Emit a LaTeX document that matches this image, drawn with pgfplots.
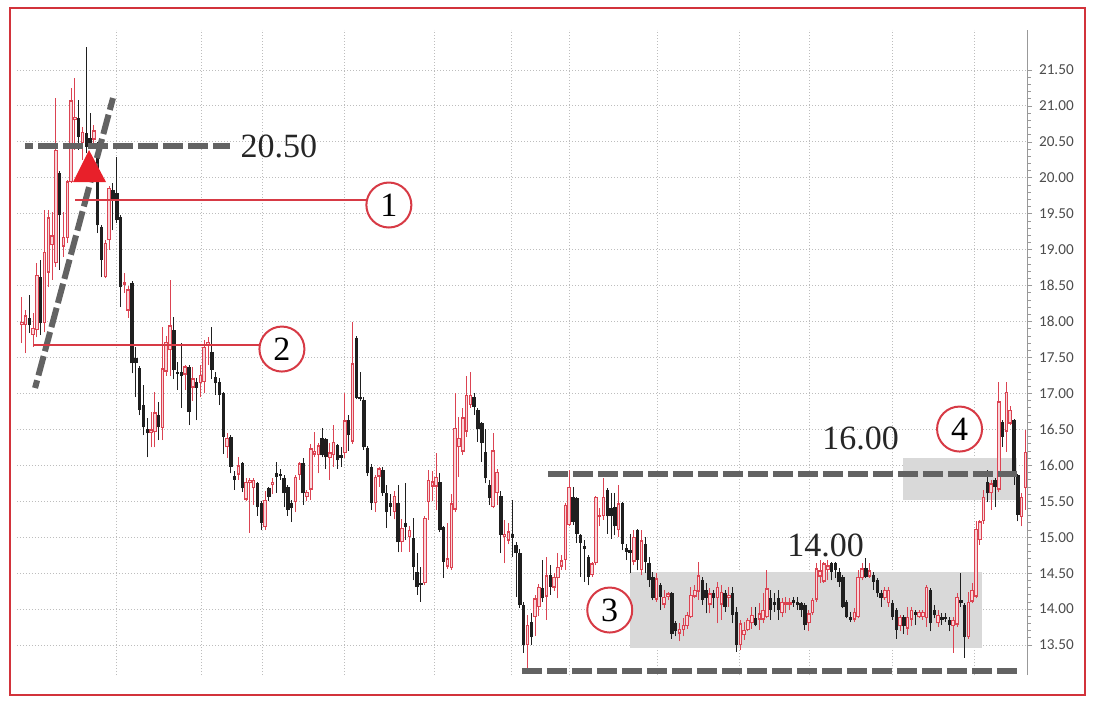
\documentclass[border=0pt]{standalone}
\usepackage{pgfplots}
\usepackage{pgfplotstable}
\pgfplotsset{compat=1.18}
\usepackage{fontspec}
\setmainfont{Liberation Serif}
\newfontfamily\carlito{Carlito}

\definecolor{upred}{HTML}{DB4352}
\definecolor{uppink}{HTML}{F9D6DA}
\definecolor{dnblack}{HTML}{1F1F1F}
\definecolor{dashgray}{HTML}{636363}
\definecolor{boxgray}{HTML}{D9D9D9}
\definecolor{linered}{HTML}{D73A45}
\definecolor{framered}{HTML}{D2333B}
\definecolor{trired}{HTML}{E8202A}
\definecolor{gridgray}{HTML}{BDBDBD}

% daily candles: open high low close
\pgfplotstableread{
o h l c
17.95 18.34 17.70 18.00
17.95 18.16 17.56 18.09
18.05 18.37 17.84 17.95
17.81 18.12 17.65 17.91
17.88 18.81 17.78 18.65
18.62 18.86 17.81 17.98
17.98 19.55 17.85 18.97
18.68 19.55 18.48 19.45
19.06 19.52 18.58 19.20
18.81 21.11 18.76 20.39
20.07 20.10 18.72 19.48
19.04 19.52 18.90 19.18
19.16 19.97 19.10 19.95
19.94 21.25 19.93 21.08
20.80 21.39 20.39 20.85
20.83 21.08 20.39 20.57
20.48 20.71 20.25 20.64
20.62 21.82 20.34 20.43
20.55 20.90 20.40 20.46
20.53 20.74 20.46 20.66
20.46 20.50 19.23 19.34
19.32 19.35 18.62 18.86
18.62 19.13 18.60 19.10
19.13 19.88 19.00 19.86
19.83 19.93 19.27 19.69
19.79 20.29 19.37 19.41
19.45 19.48 18.20 18.48
18.51 18.68 18.40 18.55
18.15 18.50 18.05 18.45
18.54 18.56 17.28 17.42
17.50 17.65 16.95 17.42
17.35 17.38 16.70 16.77
16.84 17.12 16.42 16.53
16.50 16.66 16.11 16.45
16.45 16.74 16.25 16.50
16.46 17.02 16.25 16.74
16.70 16.88 16.35 16.53
16.52 17.93 16.35 17.35
17.30 17.80 17.25 17.72
17.60 18.58 17.25 17.95
17.88 18.07 17.20 17.33
17.30 17.44 17.05 17.27
17.30 17.70 16.80 17.25
17.26 17.40 17.05 17.38
17.37 17.40 16.56 16.74
17.08 17.37 16.90 17.21
17.16 17.21 16.63 17.08
17.14 17.40 16.95 17.26
17.16 17.75 17.00 17.65
17.67 17.78 17.40 17.72
17.58 17.93 17.20 17.33
17.23 17.30 16.98 17.14
17.16 17.21 16.84 16.98
17.00 17.02 16.16 16.40
16.25 16.45 16.10 16.38
16.40 16.42 15.89 15.98
15.85 15.92 15.66 15.80
15.87 16.11 15.80 16.00
16.03 16.05 15.63 15.68
15.52 15.82 15.50 15.77
15.75 15.82 15.06 15.80
15.68 15.82 15.45 15.80
15.75 15.77 15.30 15.42
15.47 15.50 15.10 15.20
15.14 15.64 15.10 15.52
15.68 15.70 15.50 15.56
15.72 15.82 15.60 15.77
15.89 16.05 15.62 15.84
15.88 15.95 15.80 15.85
15.82 15.86 15.42 15.61
15.70 15.72 15.30 15.38
15.48 15.52 15.21 15.40
15.49 15.86 15.35 15.84
15.86 16.05 15.80 16.03
16.03 16.10 15.45 15.61
15.56 15.66 15.50 15.63
15.66 16.30 15.52 16.24
16.15 16.46 16.11 16.20
16.14 16.31 15.89 16.28
16.38 16.52 16.11 16.14
16.36 16.38 15.95 16.11
16.10 16.31 15.80 16.18
16.14 16.56 15.98 16.33
16.28 16.30 15.95 16.07
16.15 16.25 15.98 16.10
16.17 17.00 16.10 16.63
16.63 16.70 16.20 16.42
16.33 18.00 16.30 17.42
17.77 17.80 16.92 16.94
16.95 17.30 16.90 16.92
16.91 16.95 16.22 16.25
16.24 16.27 15.85 15.89
15.98 16.02 15.38 15.47
15.47 15.86 15.35 15.84
15.84 15.98 15.70 15.96
15.94 15.98 15.58 15.61
15.61 15.72 15.13 15.35
15.48 15.60 15.30 15.42
15.35 15.65 15.25 15.58
15.47 15.72 14.79 14.93
14.93 15.25 14.80 15.13
15.20 15.75 14.96 15.14
15.00 15.15 14.80 15.10
14.99 15.27 14.40 14.59
14.52 14.78 14.20 14.31
14.36 14.59 14.10 14.33
14.36 15.30 14.33 15.27
15.49 15.94 15.24 15.80
15.70 15.92 15.50 15.78
15.70 16.17 15.38 15.84
15.77 15.90 15.07 15.10
15.14 15.16 14.43 14.66
14.59 15.20 14.56 14.71
14.57 15.60 14.55 15.47
15.38 17.00 15.35 16.52
16.25 16.67 15.84 16.38
16.19 16.80 16.15 16.67
16.47 17.25 16.40 16.98
16.84 17.30 16.80 16.98
16.95 17.00 16.70 16.81
16.77 16.80 16.33 16.50
16.59 16.60 16.05 16.31
16.19 16.50 15.75 15.82
15.72 15.80 15.45 15.54
15.42 16.45 15.40 16.21
15.61 15.95 15.45 15.91
15.58 15.65 14.78 15.03
15.00 15.24 14.64 15.05
14.95 15.20 14.90 15.08
15.05 15.52 14.73 14.99
14.89 14.93 14.17 14.78
14.78 14.83 14.02 14.06
14.06 14.10 13.39 13.50
13.50 13.92 13.15 13.78
13.82 13.95 13.50 13.61
13.89 14.20 13.63 14.15
14.03 14.35 13.90 14.31
14.29 14.68 14.10 14.15
14.17 14.72 13.85 14.47
14.47 14.62 14.20 14.31
14.30 14.50 14.25 14.45
14.43 14.78 14.15 14.59
14.59 14.75 14.55 14.68
14.68 15.48 14.55 15.45
15.17 15.94 15.15 15.70
15.56 15.70 15.17 15.21
15.54 15.56 14.92 15.05
15.03 15.05 14.45 14.92
14.88 14.96 14.38 14.84
14.73 14.75 14.33 14.45
14.47 14.66 14.45 14.64
14.64 15.58 14.61 15.56
15.28 15.40 15.15 15.31
15.29 15.82 15.24 15.56
15.66 15.68 15.05 15.29
15.40 15.61 14.98 15.29
15.42 15.61 15.03 15.15
15.10 15.73 15.01 15.47
15.47 15.49 14.82 14.91
14.85 14.91 14.68 14.80
14.82 15.05 14.50 14.78
14.66 15.10 14.61 15.01
15.10 15.12 14.54 14.68
14.54 15.10 14.47 14.96
14.91 15.01 14.50 14.66
14.64 14.73 14.31 14.40
14.45 14.52 14.12 14.15
14.13 14.50 14.10 14.43
14.33 14.36 13.99 14.17
14.06 14.27 14.01 14.17
14.17 14.24 14.12 14.22
14.22 14.24 13.59 13.66
13.80 13.83 13.62 13.69
13.66 13.80 13.55 13.73
13.71 13.87 13.62 13.78
13.76 13.96 13.73 13.92
13.89 14.31 13.87 14.20
14.17 14.34 14.15 14.27
14.24 14.66 14.13 14.47
14.40 14.45 14.06 14.13
14.27 14.36 13.94 14.15
14.06 14.29 13.94 14.22
14.22 14.27 14.01 14.15
14.15 14.38 13.80 14.31
14.06 14.34 13.85 14.24
14.22 14.27 13.96 14.03
14.15 14.31 14.03 14.20
14.22 14.31 13.80 13.92
13.96 14.03 13.41 13.50
13.50 13.85 13.43 13.80
13.64 13.82 13.57 13.71
13.71 13.87 13.69 13.85
13.80 14.03 13.73 13.92
13.87 14.03 13.76 13.78
13.85 14.08 13.71 13.94
13.85 14.22 13.80 13.99
13.89 14.54 13.87 14.29
14.15 14.27 13.85 13.99
14.10 14.22 13.96 14.06
14.15 14.27 13.85 13.99
13.94 14.15 13.89 14.10
14.06 14.17 13.94 14.10
14.06 14.15 13.99 14.10
14.13 14.17 14.03 14.08
14.10 14.17 13.99 14.06
14.08 14.10 13.89 13.99
14.06 14.08 13.71 13.78
13.80 13.99 13.69 13.94
13.94 14.15 13.92 14.13
14.13 14.64 14.10 14.57
14.45 14.68 14.36 14.54
14.38 14.66 14.36 14.64
14.54 14.68 14.40 14.61
14.64 14.66 14.40 14.52
14.64 14.66 14.43 14.54
14.52 14.57 14.31 14.38
14.45 14.47 14.01 14.03
14.10 14.13 13.87 13.89
13.89 13.96 13.82 13.85
13.85 14.01 13.82 13.96
13.89 14.54 13.87 14.45
14.43 14.64 14.40 14.57
14.57 14.71 14.43 14.45
14.45 14.64 14.43 14.54
14.47 14.52 14.27 14.38
14.40 14.43 14.17 14.22
14.22 14.27 14.03 14.15
14.15 14.31 14.13 14.27
14.08 14.31 14.03 14.27
14.08 14.13 13.85 13.89
13.99 14.01 13.59 13.71
13.76 13.92 13.69 13.89
13.89 13.92 13.66 13.76
13.73 14.03 13.64 13.89
13.85 14.03 13.76 13.99
13.96 13.99 13.78 13.92
13.89 13.99 13.87 13.96
13.89 13.99 13.85 13.96
13.87 14.34 13.75 14.31
14.27 14.29 13.69 13.80
13.99 14.06 13.87 13.92
13.80 13.99 13.75 13.92
13.89 13.94 13.78 13.85
13.89 13.94 13.82 13.86
13.85 13.89 13.69 13.78
13.76 13.89 13.39 13.85
13.78 14.22 13.75 14.17
14.13 14.50 14.03 14.08
14.06 14.08 13.32 13.61
13.61 14.24 13.59 14.10
14.10 14.36 14.08 14.27
14.17 15.22 14.15 15.12
14.96 15.24 14.89 15.22
15.22 15.66 15.19 15.56
15.77 15.93 15.49 15.61
15.61 15.80 15.38 15.75
15.80 15.82 15.42 15.70
15.66 17.16 15.63 16.89
16.61 16.63 16.26 16.40
16.47 17.16 16.19 17.02
16.58 16.82 16.56 16.77
16.63 16.65 15.73 15.84
15.86 15.88 15.22 15.31
15.28 15.61 15.15 15.56
15.68 16.49 15.38 16.19
}\candles

\begin{document}
\begin{tikzpicture}
\begin{axis}[
  scale only axis, width=505pt, height=322.5pt,
  xmin=-1.25, xmax=264.4, ymin=13.083, ymax=22.057,
  clip=false,
  axis y line*=right, axis x line*=bottom,
  x axis line style={draw=none},
  y axis line style={draw=black!40, line width=0.5pt},
  xtick={25.05,47.4,63.4,85.0,108.6,128.9,144.1,167.3,188.8,207.2,229.0,250.6},
  xticklabels={}, xtick style={draw=none},
  ytick={13.5,14,...,21.5}, minor y tick num=4,
  tick align=outside, major tick length=2.5pt, minor tick length=1.8pt,
  ytick style={draw=black!40, line width=0.4pt},
  grid=major,
  major grid style={draw=gridgray, line width=0.5pt, dash pattern=on 0.5pt off 1pt},
  scaled y ticks=false,
  /pgf/number format/assume math mode=true,
  yticklabel style={font=\carlito\fontsize{7.6}{9}\selectfont, text=black!70,
    /pgf/number format/fixed, /pgf/number format/fixed zerofill,
    /pgf/number format/precision=2},
  candle/.style={draw=none, mark=none, forget plot,
    error bars/.cd, y dir=plus, y explicit, error mark=none},
]
% page and frame
\path (rel axis cs:-0.016832,-0.051163) rectangle (rel axis cs:1.068317,1.046512);
\draw[framered, line width=1pt] (rel axis cs:-0.006931,-0.031008) rectangle (rel axis cs:1.057426,1.034109);

% shaded ranges
\fill[boxgray] (axis cs:159.91,13.458) rectangle (axis cs:252.45,14.516);
\fill[boxgray] (axis cs:231.68,15.517) rectangle (axis cs:261.65,16.102);

% wicks
\addplot[candle, error bar style={line width=0.5pt, draw=upred, solid}]
  table[x expr=\coordindex, y=l,
    y error plus expr={ifthenelse(\thisrow{c}>=\thisrow{o}, \thisrow{h}-\thisrow{l}, 0)}] {\candles};
\addplot[candle, error bar style={line width=0.5pt, draw=dnblack, solid}]
  table[x expr=\coordindex, y=l,
    y error plus expr={ifthenelse(\thisrow{c}<\thisrow{o}, \thisrow{h}-\thisrow{l}, 0)}] {\candles};
% bodies
\addplot[candle, error bar style={line width=1.8pt, draw=upred, solid}]
  table[x expr=\coordindex, y=o,
    y error plus expr={max(\thisrow{c}-\thisrow{o}, 0)}] {\candles};
\addplot[candle, error bar style={line width=0.8pt, draw=uppink, solid}]
  table[x expr=\coordindex, y expr=\thisrow{o}+0.02,
    y error plus expr={max(\thisrow{c}-\thisrow{o}-0.04, 0)}] {\candles};
\addplot[candle, error bar style={line width=1.7pt, draw=dnblack, solid}]
  table[x expr=\coordindex, y=c,
    y error plus expr={max(\thisrow{o}-\thisrow{c}, 0)}] {\candles};

% support and resistance
\tikzset{lvl/.style={dashgray, line width=3pt, dash pattern=on 10pt off 2.5pt}}
\draw[lvl, dash phase=6pt] (axis cs:0.87,20.443) -- (axis cs:54.76,20.443);
\draw[lvl, dash phase=6pt] (axis cs:3.50,17.076) -- (axis cs:24.0,21.11);
\draw[lvl] (axis cs:138.36,15.879) -- (axis cs:261.65,15.879);
\draw[lvl] (axis cs:131.52,13.138) -- (axis cs:261.65,13.138);

\fill[trired] (axis cs:17.69,20.387) -- (axis cs:13.49,19.942) -- (axis cs:22.16,19.942) -- cycle;

\draw[linered, line width=0.75pt] (axis cs:14.01,19.691) -- (axis cs:96.56,19.691);
\draw[linered, line width=0.75pt] (axis cs:2.97,17.674) -- (axis cs:68.43,17.674);

\tikzset{num/.style={circle, draw=linered, line width=1pt, fill=white,
  minimum size=22.5pt, inner sep=0pt, font=\fontsize{17}{20}\selectfont}}
\node[num] at (axis cs:96.56,19.622) {1};
\node[num] at (axis cs:68.43,17.618) {2};
\node[num] at (axis cs:154.65,13.987) {3};
\node[num] at (axis cs:246.66,16.505) {4};

\tikzset{lbl/.style={font=\fontsize{17}{20}\selectfont, text=black!85, inner sep=0pt}}
\node[lbl] at (axis cs:67.64,20.443) {20.50};
\node[lbl] at (axis cs:220.64,16.38) {16.00};
\node[lbl] at (axis cs:211.43,14.891) {14.00};
\end{axis}
\end{tikzpicture}
\end{document}
